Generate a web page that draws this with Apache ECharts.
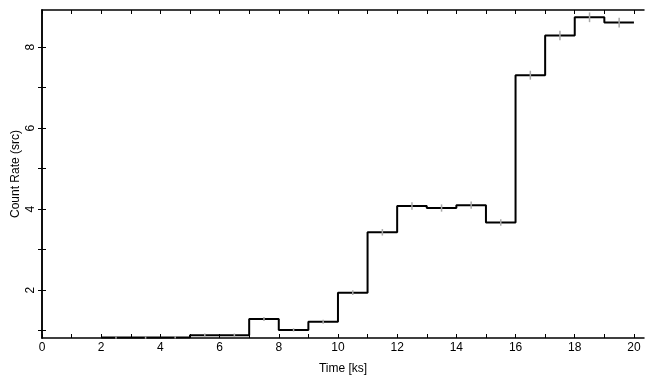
<!DOCTYPE html>
<html>
<head>
<meta charset="utf-8">
<script src="https://cdn.jsdelivr.net/npm/echarts@6/dist/echarts.min.js"></script>
<style>
  html, body { margin: 0; padding: 0; background: #fff; }
  #chart { width: 655px; height: 385px; }
</style>
</head>
<body>
<div id="chart"></div>
<script>
// light curve, 1 ks bins
var binEdges = [2, 3, 4, 5, 6, 7, 8, 9, 10, 11, 12, 13, 14, 15, 16, 17, 18, 19, 20];
var rates = [0.83, 0.83, 0.84, 0.89, 0.89, 1.29, 1.02, 1.22, 1.94, 3.43, 4.08, 4.03, 4.10, 3.67, 7.31, 8.29, 8.74, 8.61];
var rateErr = [0.03, 0.03, 0.03, 0.04, 0.04, 0.05, 0.04, 0.05, 0.06, 0.08, 0.09, 0.09, 0.09, 0.08, 0.11, 0.12, 0.12, 0.12];
var xTicks = [0, 1, 2, 3, 4, 5, 6, 7, 8, 9, 10, 11, 12, 13, 14, 15, 16, 17, 18, 19, 20];
var xLabels = [0, 2, 4, 6, 8, 10, 12, 14, 16, 18, 20];
var yTicks = [1, 2, 3, 4, 5, 6, 7, 8];
var yLabels = [2, 4, 6, 8];

var stepData = [];
for (var i = 0; i < rates.length; i++) {
  stepData.push([binEdges[i], rates[i]]);
}
stepData.push([binEdges[binEdges.length - 1], rates[rates.length - 1]]);

var errData = [];
for (var j = 0; j < rates.length; j++) {
  errData.push([(binEdges[j] + binEdges[j + 1]) / 2, rates[j] - rateErr[j], rates[j] + rateErr[j]]);
}

var font = 'Liberation Sans, Arial, sans-serif';
var lineStyle = { color: '#000', width: 1.5 };

var chart = echarts.init(document.getElementById('chart'), null, { renderer: 'canvas' });

var xBase = {
  type: 'value', min: 0, max: 20.34,
  splitLine: { show: false },
  axisLine: { show: true, lineStyle: lineStyle }
};
var yBase = {
  type: 'value', min: 0.82, max: 8.92,
  splitLine: { show: false },
  axisLine: { show: true, lineStyle: lineStyle }
};

var option = {
  animation: false,
  backgroundColor: '#fff',
  grid: { left: 42, right: 11, top: 10, bottom: 47, containLabel: false, outerBoundsMode: 'none' },
  xAxis: [
    Object.assign({}, xBase, {
      position: 'bottom',
      name: 'Time [ks]', nameLocation: 'middle', nameGap: 25, nameMoveOverlap: false,
      nameTextStyle: { fontFamily: font, fontSize: 12, color: '#000' },
      axisTick: { show: true, inside: true, length: 4, lineStyle: { color: '#000' }, customValues: xTicks },
      axisLabel: { show: true, margin: 4, fontFamily: font, fontSize: 12, color: '#000', customValues: xLabels }
    }),
    Object.assign({}, xBase, {
      position: 'top',
      axisTick: { show: true, inside: true, length: 4, lineStyle: { color: '#000' }, customValues: xTicks },
      axisLabel: { show: false }
    })
  ],
  yAxis: [
    Object.assign({}, yBase, {
      position: 'left',
      name: 'Count Rate (src)', nameLocation: 'middle', nameGap: 20, nameMoveOverlap: false,
      nameTextStyle: { fontFamily: font, fontSize: 12, color: '#000' },
      axisTick: { show: true, inside: true, length: 4, lineStyle: { color: '#000' }, customValues: yTicks },
      axisLabel: { show: true, rotate: 90, margin: 5, fontFamily: font, fontSize: 12, color: '#000', customValues: yLabels }
    }),
    Object.assign({}, yBase, {
      position: 'right',
      axisTick: { show: true, inside: true, length: 4, lineStyle: { color: '#000' }, customValues: yTicks },
      axisLabel: { show: false }
    })
  ],
  series: [
    {
      type: 'line',
      step: 'end',
      data: stepData,
      symbol: 'none',
      lineStyle: { color: '#000', width: 2 },
      z: 2
    },
    {
      type: 'custom',
      data: errData,
      z: 3,
      renderItem: function (params, api) {
        var lo = api.coord([api.value(0), api.value(1)]);
        var hi = api.coord([api.value(0), api.value(2)]);
        return {
          type: 'line',
          shape: { x1: lo[0], y1: lo[1], x2: hi[0], y2: hi[1] },
          style: { stroke: '#a8a8a8', lineWidth: 1.5 }
        };
      }
    }
  ]
};

chart.setOption(option);
</script>
</body>
</html>
